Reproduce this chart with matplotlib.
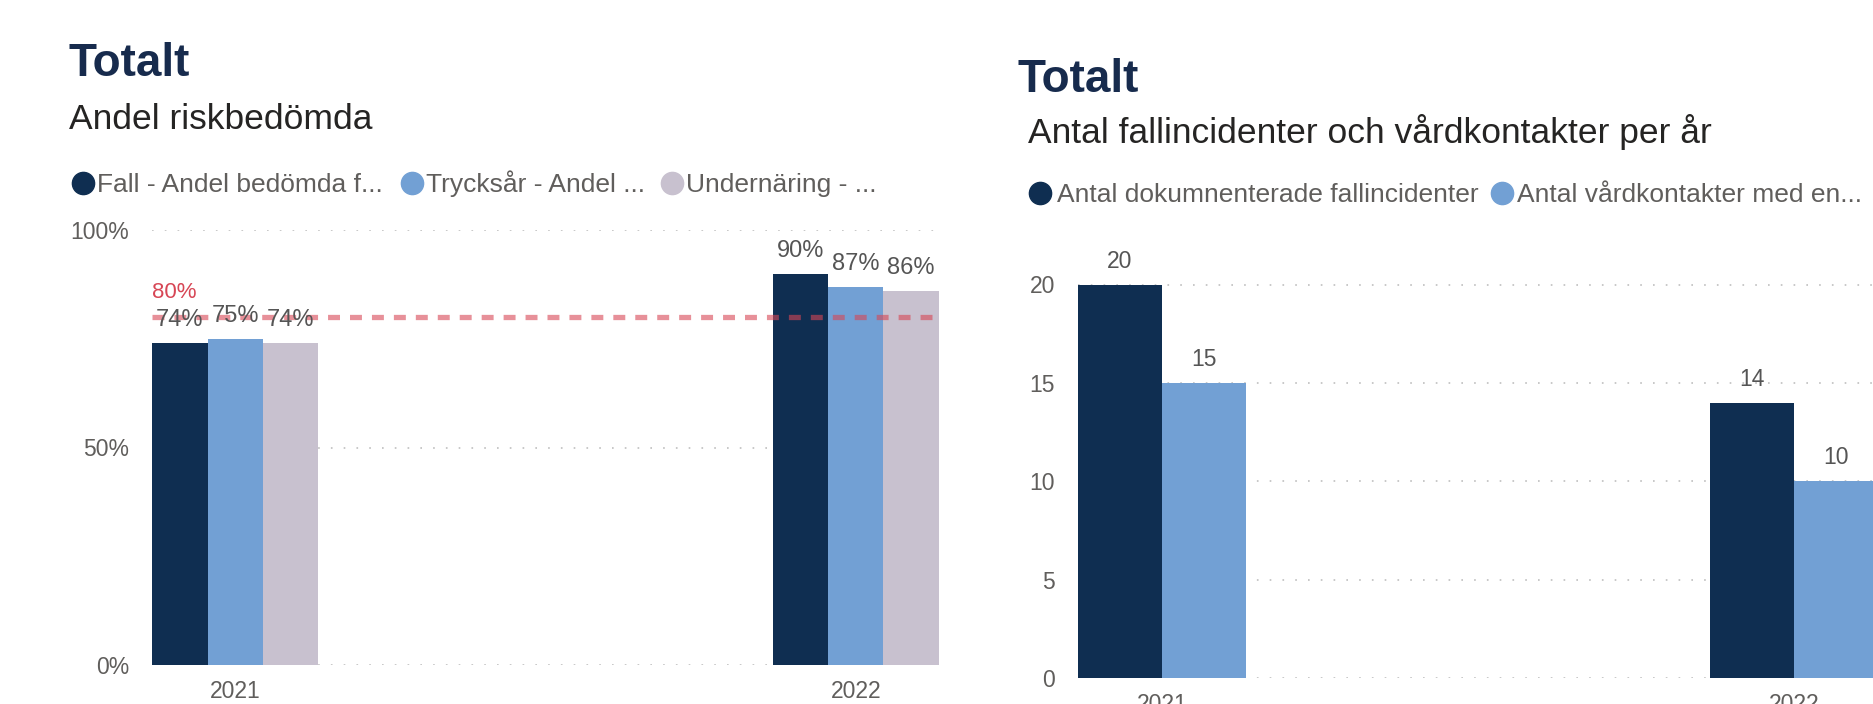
import matplotlib.pyplot as plt
import numpy as np
from matplotlib.lines import Line2D

plt.rcParams['font.family'] = ['Liberation Sans', 'DejaVu Sans']
plt.rcParams['lines.scale_dashes'] = False

# figure size in pixels (dpi 100)
W, H = 1874, 704

# data
years = ['2021', '2022']

risk_series = ['Fall - Andel bedömda f...', 'Trycksår - Andel ...', 'Undernäring - ...']
risk_fall = [0.74, 0.90]
risk_tryck = [0.75, 0.87]
risk_under = [0.74, 0.86]
risk_target = 0.80
risk_ticks = [0, 0.5, 1.0]

fall_series = ['Antal dokumnenterade fallincidenter', 'Antal vårdkontakter med en...']
fall_incidents = [20, 14]
fall_contacts = [15, 10]
fall_ticks = [0, 5, 10, 15, 20]

# colours
NAVY = '#0F2E51'
BLUE = '#72A0D4'
LILAC = '#C8C1CF'
TARGET = '#D74655'
TITLE_C = '#172B4D'
SUB_C = '#252423'
GREY_TXT = '#605E5C'
LABEL_C = '#555555'
GRID_C = '#C4C4C4'


def fx(px):
    return px / W


def fy(py):
    return 1 - py / H


def style_axes(ax, ticks, fmt):
    for s in ax.spines.values():
        s.set_visible(False)
    ax.set_yticks(ticks)
    ax.set_yticklabels([fmt(t) for t in ticks])
    ax.grid(axis='y', color=GRID_C, linestyle=(0, (1.2, 8)), linewidth=1.3)
    ax.set_axisbelow(True)
    ax.tick_params(axis='y', length=0, pad=16.5, labelsize=16.5, labelcolor=GREY_TXT)
    ax.tick_params(axis='x', length=0, pad=10.5, labelsize=16.5, labelcolor=GREY_TXT)


def legend_row(items, y_center, y_base):
    # items: (marker_x, text_x, colour, label)
    for mx, tx, col, lab in items:
        fig.add_artist(Line2D([fx(mx)], [fy(y_center)], marker='o', markersize=16,
                              color=col, linestyle='none', transform=fig.transFigure))
        fig.text(fx(tx), fy(y_base), lab, fontsize=19, color=GREY_TXT,
                 ha='left', va='baseline')


fig = plt.figure(figsize=(W / 100, H / 100), dpi=100)

# ---------------- left chart: Andel riskbedömda ----------------
ax1 = fig.add_axes([fx(152), fy(665), fx(939) - fx(152), fy(230) - fy(665)])
x = np.arange(len(years))
w1 = 0.089
for i, (vals, col) in enumerate(zip([risk_fall, risk_tryck, risk_under], [NAVY, BLUE, LILAC])):
    pos = x + (i - 1) * w1
    ax1.bar(pos, vals, width=w1, color=col, zorder=2)
    for p, v in zip(pos, vals):
        ax1.annotate(f'{v * 100:.0f}%', (p, v), xytext=(0, 12.2), textcoords='offset points',
                     ha='center', va='baseline', fontsize=17, color=LABEL_C, zorder=4)

ax1.set_xlim(-1.5 * w1 - 0.0005, 1 + 1.5 * w1 + 0.0005)
ax1.set_ylim(0, 1.0)
ax1.set_xticks(x)
ax1.set_xticklabels(years)
style_axes(ax1, risk_ticks, lambda t: f'{t * 100:.0f}%')

ax1.axhline(risk_target, color=TARGET, alpha=0.6, linewidth=3.8,
            linestyle=(0, (8.6, 7.2)), zorder=3)
ax1.annotate(f'{risk_target * 100:.0f}%', (ax1.get_xlim()[0], risk_target), xytext=(0, 13.7),
             textcoords='offset points', ha='left', va='baseline', fontsize=16,
             color=TARGET, zorder=4)

fig.text(fx(69), fy(76.5), 'Totalt', fontsize=33, fontweight='bold', color=TITLE_C,
         ha='left', va='baseline')
fig.text(fx(69), fy(129), 'Andel riskbedömda', fontsize=25.5, color=SUB_C,
         ha='left', va='baseline')
legend_row([(83, 97, NAVY, risk_series[0]),
            (412, 426, BLUE, risk_series[1]),
            (672, 686, LILAC, risk_series[2])], 183, 192)

# ---------------- right chart: fallincidenter ----------------
ax2 = fig.add_axes([fx(1078), fy(678), fx(1878) - fx(1078), fy(284.5) - fy(678)])
w2 = 0.133
for i, (vals, col) in enumerate(zip([fall_incidents, fall_contacts], [NAVY, BLUE])):
    pos = x + (i - 0.5) * w2
    ax2.bar(pos, vals, width=w2, color=col, zorder=2)
    for p, v in zip(pos, vals):
        ax2.annotate(f'{v}', (p, v), xytext=(0, 12.2), textcoords='offset points',
                     ha='center', va='baseline', fontsize=16.5, color=LABEL_C, zorder=4)

ax2.set_xlim(-w2, 1 + w2)
ax2.set_ylim(0, 20)
ax2.set_xticks(x)
ax2.set_xticklabels(years)
style_axes(ax2, fall_ticks, lambda t: f'{t}')

fig.text(fx(1018), fy(91.5), 'Totalt', fontsize=33, fontweight='bold', color=TITLE_C,
         ha='left', va='baseline')
fig.text(fx(1028), fy(143), 'Antal fallincidenter och vårdkontakter per år', fontsize=25.5,
         color=SUB_C, ha='left', va='baseline')
legend_row([(1040.5, 1057, NAVY, fall_series[0]),
            (1502, 1517, BLUE, fall_series[1])], 193, 202)

fig.savefig('out.png', dpi=100)
